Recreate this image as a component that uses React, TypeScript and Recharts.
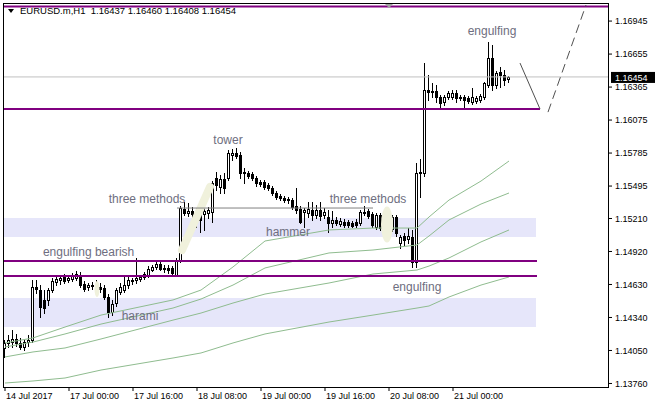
import React from 'react';
import {
  ComposedChart,
  Bar,
  Line,
  XAxis,
  YAxis,
  ReferenceLine,
  ReferenceArea,
  ReferenceDot
} from 'recharts';

const FONT = '"Liberation Sans", Arial, sans-serif';

// EURUSD.m H1 candles, 14 Jul 2017 08:00 .. 21 Jul 2017 14:00
const open = [
  1.14072, 1.14116, 1.14124, 1.14151, 1.14116, 1.14081, 1.14124, 1.14142, 1.14608, 1.14581,
  1.14494, 1.14494, 1.14581, 1.14652, 1.14669, 1.14696, 1.14669, 1.14678, 1.14687, 1.14713,
  1.14634, 1.14608, 1.14616, 1.14616, 1.14608, 1.14599, 1.14520, 1.14388, 1.14467, 1.14564,
  1.14581, 1.14625, 1.14660, 1.14669, 1.14678, 1.14696, 1.14713, 1.14757, 1.14784, 1.14810,
  1.14766, 1.14775, 1.14775, 1.14713, 1.14836, 1.15293, 1.15258, 1.15276, 1.15258, 1.15250,
  1.15250, 1.15258, 1.15267, 1.15566, 1.15487, 1.15557, 1.15566, 1.15768, 1.15785, 1.15768,
  1.15610, 1.15610, 1.15601, 1.15566, 1.15531, 1.15531, 1.15504, 1.15478, 1.15434, 1.15408,
  1.15390, 1.15372, 1.15372, 1.15320, 1.15293, 1.15267, 1.15258, 1.15285, 1.15241, 1.15285,
  1.15241, 1.15223, 1.15170, 1.15197, 1.15162, 1.15179, 1.15179, 1.15170, 1.15179, 1.15170,
  1.15258, 1.15276, 1.15250, 1.15135, 1.15241, 1.15126, 1.15082, 1.15118, 1.15223, 1.14994,
  1.15056, 1.15030, 1.15047, 1.14828, 1.15619, 1.15610, 1.16339, 1.16330, 1.16330, 1.16278,
  1.16234, 1.16278, 1.16278, 1.16313, 1.16278, 1.16278, 1.16269, 1.16234, 1.16243, 1.16251,
  1.16278, 1.16383, 1.16620, 1.16383, 1.16497, 1.16471, 1.16437
];
const high = [
  1.14142, 1.14186, 1.14230, 1.14195, 1.14160, 1.14142, 1.14186, 1.14669, 1.14669, 1.14625,
  1.14581, 1.14599, 1.14687, 1.14696, 1.14704, 1.14722, 1.14713, 1.14731, 1.14748, 1.14740,
  1.14660, 1.14643, 1.14652, 1.14669, 1.14643, 1.14625, 1.14546, 1.14494, 1.14599, 1.14643,
  1.14696, 1.14704, 1.14687, 1.14863, 1.14713, 1.14740, 1.14792, 1.14801, 1.14828, 1.14828,
  1.14801, 1.14801, 1.14792, 1.14863, 1.15320, 1.15355, 1.15346, 1.15311, 1.15302, 1.15293,
  1.15328, 1.15311, 1.15539, 1.15619, 1.15592, 1.15610, 1.15812, 1.15821, 1.15830, 1.15794,
  1.15654, 1.15627, 1.15619, 1.15583, 1.15548, 1.15548, 1.15522, 1.15495, 1.15451, 1.15425,
  1.15408, 1.15399, 1.15390, 1.15478, 1.15320, 1.15302, 1.15355, 1.15355, 1.15328, 1.15355,
  1.15302, 1.15285, 1.15276, 1.15223, 1.15214, 1.15205, 1.15197, 1.15188, 1.15205, 1.15285,
  1.15320, 1.15293, 1.15267, 1.15258, 1.15258, 1.15144, 1.15144, 1.15241, 1.15241, 1.15065,
  1.15082, 1.15126, 1.15109, 1.15698, 1.15733, 1.16576, 1.16471, 1.16401, 1.16383, 1.16295,
  1.16295, 1.16330, 1.16339, 1.16339, 1.16295, 1.16295, 1.16287, 1.16357, 1.16287, 1.16304,
  1.16409, 1.16761, 1.16735, 1.16506, 1.16541, 1.16515, 1.16460
];
const low = [
  1.13993, 1.14081, 1.14081, 1.14089, 1.14063, 1.14054, 1.14089, 1.14124, 1.14555, 1.14344,
  1.14379, 1.14450, 1.14564, 1.14625, 1.14634, 1.14643, 1.14652, 1.14660, 1.14669, 1.14608,
  1.14572, 1.14581, 1.14590, 1.14581, 1.14564, 1.14502, 1.14344, 1.14361, 1.14441, 1.14546,
  1.14564, 1.14599, 1.14634, 1.14643, 1.14660, 1.14678, 1.14696, 1.14748, 1.14766, 1.14757,
  1.14740, 1.14731, 1.14713, 1.14704, 1.14828, 1.15241, 1.15232, 1.15223, 1.15135, 1.15091,
  1.15109, 1.15214, 1.15179, 1.15460, 1.15434, 1.15434, 1.15548, 1.15724, 1.15741, 1.15566,
  1.15522, 1.15566, 1.15548, 1.15495, 1.15495, 1.15469, 1.15460, 1.15416, 1.15381, 1.15372,
  1.15355, 1.15346, 1.15293, 1.15258, 1.15170, 1.15135, 1.15223, 1.15197, 1.15214, 1.15197,
  1.15214, 1.15091, 1.15135, 1.15153, 1.15144, 1.15135, 1.15135, 1.15135, 1.15135, 1.15153,
  1.15241, 1.15214, 1.15135, 1.15118, 1.15109, 1.15056, 1.15056, 1.15100, 1.15056, 1.14951,
  1.14977, 1.14994, 1.14784, 1.14784, 1.15399, 1.15583, 1.16251, 1.16278, 1.16234, 1.16181,
  1.16207, 1.16260, 1.16260, 1.16234, 1.16251, 1.16172, 1.16225, 1.16216, 1.16225, 1.16234,
  1.16260, 1.16365, 1.16339, 1.16357, 1.16365, 1.16383, 1.16408
];
const close = [
  1.14116, 1.14142, 1.14151, 1.14116, 1.14081, 1.14124, 1.14142, 1.14608, 1.14590, 1.14432,
  1.14423, 1.14581, 1.14660, 1.14678, 1.14687, 1.14660, 1.14687, 1.14704, 1.14722, 1.14625,
  1.14590, 1.14625, 1.14625, 1.14608, 1.14590, 1.14520, 1.14388, 1.14458, 1.14581, 1.14608,
  1.14625, 1.14669, 1.14669, 1.14687, 1.14696, 1.14722, 1.14766, 1.14784, 1.14810, 1.14766,
  1.14775, 1.14757, 1.14731, 1.14836, 1.15302, 1.15258, 1.15276, 1.15250, 1.15205, 1.15197,
  1.15276, 1.15285, 1.15522, 1.15504, 1.15557, 1.15478, 1.15785, 1.15785, 1.15759, 1.15610,
  1.15619, 1.15583, 1.15566, 1.15522, 1.15513, 1.15487, 1.15478, 1.15434, 1.15399, 1.15390,
  1.15372, 1.15381, 1.15311, 1.15285, 1.15179, 1.15285, 1.15293, 1.15241, 1.15285, 1.15232,
  1.15267, 1.15170, 1.15197, 1.15170, 1.15188, 1.15153, 1.15153, 1.15144, 1.15153, 1.15267,
  1.15267, 1.15232, 1.15153, 1.15241, 1.15126, 1.15065, 1.15118, 1.15223, 1.15082, 1.15047,
  1.15021, 1.15056, 1.14828, 1.15610, 1.15610, 1.16339, 1.16321, 1.16321, 1.16278, 1.16225,
  1.16278, 1.16313, 1.16313, 1.16269, 1.16269, 1.16251, 1.16243, 1.16278, 1.16269, 1.16287,
  1.16401, 1.16620, 1.16383, 1.16489, 1.16471, 1.16427, 1.16454
];

const timeTicks = [0, 16, 32, 48, 64, 80, 96, 112];
const timeLabels = [
  '14 Jul 2017', '17 Jul 00:00', '17 Jul 16:00', '18 Jul 08:00',
  '19 Jul 00:00', '19 Jul 16:00', '20 Jul 08:00', '21 Jul 00:00'
];
const priceTicks = [
  1.16945, 1.16655, 1.16365, 1.16075, 1.15785, 1.15495,
  1.1521, 1.1492, 1.1463, 1.1434, 1.1405, 1.1376
];

// moving averages, read at these bars
const maBars = [0, 7, 15, 24, 42, 49, 57, 65, 81, 92, 103, 106, 111, 119, 126];
const ma1 = [1.14116, 1.1416, 1.14256, 1.14361, 1.14494, 1.14581, 1.14784, 1.15012, 1.15109, 1.15126, 1.15126, 1.15223, 1.15372, 1.15539, 1.15715];
const ma2 = [1.14081, 1.14124, 1.14195, 1.14282, 1.14423, 1.14502, 1.14625, 1.14775, 1.14907, 1.14933, 1.14977, 1.15056, 1.15197, 1.15337, 1.15434];
const ma3 = [1.13993, 1.14037, 1.14072, 1.14151, 1.14317, 1.14379, 1.14467, 1.14546, 1.14643, 1.14722, 1.14757, 1.14792, 1.14863, 1.15004, 1.15109];
const ma4 = [1.13764, 1.13782, 1.13808, 1.13878, 1.13984, 1.14028, 1.14116, 1.14195, 1.143, 1.14361, 1.14423, 1.14441, 1.1452, 1.14625, 1.14696];

// drawn objects
const topLevel = 1.17072;
const levels = [1.16172, 1.14836, 1.14705];
const levelEnds = [133.75, 133, 133];
const zoneLow = [1.15047, 1.14256];
const zoneHigh = [1.15214, 1.14511];
const zoneEnd = 132.75;
const methodsLevel = 1.15302;

const noteText = ['tower', 'three methods', 'three methods', 'hammer', 'engulfing bearish', 'harami', 'engulfing', 'engulfing'];
const noteBar = [55.75, 35.5, 90.75, 70.75, 20.9, 33.75, 103, 121.75];
const notePrice = [1.159, 1.15381, 1.15381, 1.15091, 1.14916, 1.14353, 1.14608, 1.16857];

const data: any[] = open.map((o, i) => ({ i, o, h: high[i], l: low[i], c: close[i] }));
maBars.forEach((b, k) => {
  Object.assign(data[b], { ma1: ma1[k], ma2: ma2[k], ma3: ma3[k], ma4: ma4[k] });
});

const last = data.length - 1;
const header = `EURUSD.m,H1  ${open[last].toFixed(5)} ${high[last].toFixed(5)} ${low[last].toFixed(5)} ${close[last].toFixed(5)}`;

function Candle(props: any) {
  const { x, y, width, height, payload } = props;
  const { o, h, l, c } = payload;
  const hgt = Math.abs(height);
  const k = h === l ? 0 : hgt / (h - l);
  const yOf = (v: number) => y + (h - v) * k;
  const cx = Math.floor(x + width / 2) + 0.5;
  const top = Math.round(yOf(Math.max(o, c)));
  const bot = Math.round(yOf(Math.min(o, c)));
  const up = c >= o;
  return (
    <g>
      <line x1={cx} x2={cx} y1={Math.round(y)} y2={Math.round(y + hgt) + 1} stroke="#000" />
      {bot - top < 1 ? (
        <line x1={cx - 1.5} x2={cx + 1.5} y1={top + 0.5} y2={top + 0.5} stroke="#000" />
      ) : (
        <rect
          x={cx - 1}
          y={top + 0.5}
          width={2}
          height={bot - top}
          fill={up ? '#fff' : '#000'}
          stroke="#000"
        />
      )}
    </g>
  );
}

function TimeTick({ x, y, payload }: any) {
  return (
    <text x={x + 1} y={y} dy={8} fontSize={9} fontFamily={FONT} fill="#000" textAnchor="start">
      {timeLabels[timeTicks.indexOf(payload.value)]}
    </text>
  );
}

function PriceTag({ viewBox }: any) {
  const x = viewBox.x + viewBox.width + 2;
  return (
    <g>
      <rect x={x} y={viewBox.y - 5} width={46} height={11} fill="#000" />
      <text x={x + 4} y={viewBox.y + 0.5} dy="0.355em" fontSize={9} fontFamily={FONT} fill="#fff">
        {close[last].toFixed(5)}
      </text>
    </g>
  );
}

const note = (text: string) => (p: any) => (
  <text
    x={p.cx}
    y={p.cy}
    dy="0.355em"
    textAnchor="middle"
    fontSize={12}
    fontFamily={FONT}
    fill="#6e6e80"
  >
    {text}
  </text>
);

const glow = (rx: number, ry: number) => (p: any) => (
  <ellipse cx={p.cx} cy={p.cy} rx={rx} ry={ry} fill="#f0f1dc" />
);

export default function App() {
  return (
    <div style={{ position: 'absolute', left: 0, top: 0, width: 655, height: 407, background: '#fff' }}>
      <ComposedChart
        width={655}
        height={407}
        data={data}
        margin={{ top: 4, right: 0, bottom: 0, left: 4 }}
        style={{ fontFamily: FONT }}
      >
        <XAxis
          type="number"
          dataKey="i"
          domain={[-0.25, 151]}
          allowDataOverflow
          ticks={timeTicks}
          interval={0}
          height={20}
          tickSize={4}
          tickMargin={0}
          axisLine={false}
          tickLine={{ stroke: '#000' }}
          tick={<TimeTick />}
        />
        <YAxis
          orientation="right"
          domain={[1.13729, 1.17095]}
          allowDataOverflow
          ticks={priceTicks}
          interval={0}
          width={46}
          tickSize={3}
          tickMargin={3}
          axisLine={false}
          tickLine={{ stroke: '#000' }}
          tick={{ fontSize: 9, fill: '#000', fontFamily: FONT }}
          tickFormatter={(v: number) => v.toFixed(5)}
        />

        {zoneLow.map((z, k) => (
          <ReferenceArea
            key={'z' + k}
            x1={-0.25}
            x2={zoneEnd}
            y1={z}
            y2={zoneHigh[k]}
            fill="#e6e6fa"
            fillOpacity={1}
            stroke="none"
          />
        ))}

        <ReferenceLine y={close[last]} stroke="#c0c0c0" label={<PriceTag />} />

        <ReferenceLine
          segment={[{ x: 44.25, y: 1.14933 }, { x: 51.25, y: 1.15487 }]}
          stroke="#f0f1dc"
          strokeWidth={8}
          strokeLinecap="round"
        />
        <ReferenceDot x={23} y={1.1459} r={1} shape={glow(2.5, 8)} />
        <ReferenceDot x={95.5} y={1.15157} r={1} shape={glow(6, 18)} />

        <ReferenceLine
          segment={[{ x: 43, y: methodsLevel }, { x: 92, y: methodsLevel }]}
          stroke="#808080"
        />

        <Line dataKey="ma1" stroke="#8fbc8f" dot={false} connectNulls isAnimationActive={false} />
        <Line dataKey="ma2" stroke="#8fbc8f" dot={false} connectNulls isAnimationActive={false} />
        <Line dataKey="ma3" stroke="#8fbc8f" dot={false} connectNulls isAnimationActive={false} />
        <Line dataKey="ma4" stroke="#8fbc8f" dot={false} connectNulls isAnimationActive={false} />

        <Bar
          dataKey={(d: any) => [d.l, d.h]}
          barSize={3}
          shape={<Candle />}
          isAnimationActive={false}
        />

        <ReferenceLine y={topLevel} stroke="#800080" strokeWidth={2} />
        {levels.map((lv, k) => (
          <ReferenceLine
            key={'l' + k}
            segment={[{ x: -0.25, y: lv }, { x: levelEnds[k], y: lv }]}
            stroke="#800080"
            strokeWidth={2}
          />
        ))}

        <ReferenceLine
          segment={[{ x: 128.75, y: 1.16576 }, { x: 133.75, y: 1.16172 }]}
          stroke="#505050"
        />
        <ReferenceLine
          segment={[{ x: 135.75, y: 1.16145 }, { x: 145.25, y: 1.17086 }]}
          stroke="#505050"
          strokeDasharray="9 5"
        />

        {noteText.map((t, k) => (
          <ReferenceDot key={'n' + k} x={noteBar[k]} y={notePrice[k]} r={1} shape={note(t)} />
        ))}

        <ReferenceDot
          x={96}
          y={1.17095}
          r={1}
          shape={(p: any) => (
            <polygon
              points={`${p.cx - 4},${p.cy} ${p.cx + 4},${p.cy} ${p.cx},${p.cy + 4}`}
              fill="#a0a0a0"
            />
          )}
        />
      </ComposedChart>

      <div
        style={{
          position: 'absolute',
          left: 3,
          top: 3,
          width: 606,
          height: 385,
          boxSizing: 'border-box',
          border: '1px solid #000',
          pointerEvents: 'none'
        }}
      />
      <div
        style={{
          position: 'absolute',
          left: 8,
          top: 9,
          width: 0,
          height: 0,
          borderLeft: '3px solid transparent',
          borderRight: '3px solid transparent',
          borderTop: '4px solid #000'
        }}
      />
      <div
        style={{
          position: 'absolute',
          left: 20,
          top: 5,
          fontFamily: FONT,
          fontSize: 9.5,
          lineHeight: '12px',
          whiteSpace: 'pre',
          color: '#000'
        }}
      >
        {header}
      </div>
    </div>
  );
}
